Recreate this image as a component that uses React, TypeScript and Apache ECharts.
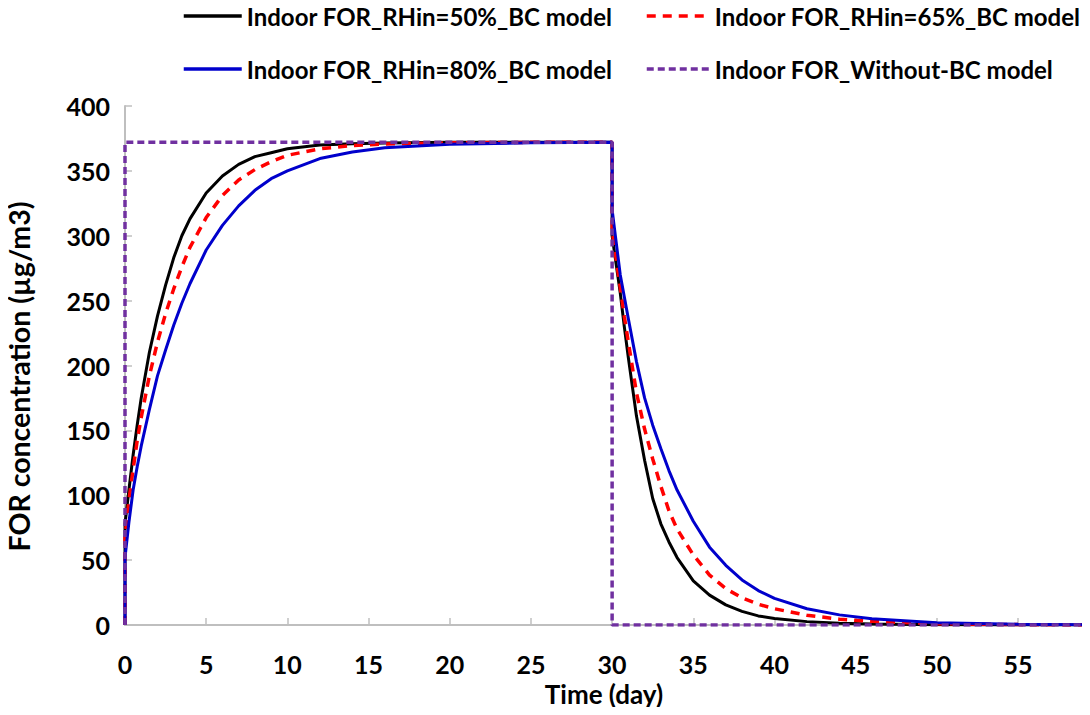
import React, { useEffect, useRef } from "react";
import * as echarts from "echarts";

// Time (day) sample points shared by the three BC-model series
const timeDays = [
  0, 0, 0.25, 0.5, 0.75, 1, 1.5, 2, 2.5, 3, 3.5, 4, 5, 6, 7, 8, 9, 10, 12, 14, 16, 20, 25, 30,
  30, 30.25, 30.5, 30.75, 31, 31.5, 32, 32.5, 33, 33.5, 34, 35, 36, 37, 38, 39, 40, 42, 44, 46, 50, 55, 59,
];

const rh50 = [
  0, 78, 105, 131, 154, 175, 210, 238, 262, 283, 300, 313, 333, 346, 355, 361, 364, 367, 370, 371, 371.5, 372, 372, 372,
  300, 278, 256, 230, 206, 161, 127, 97.5, 78, 64, 52, 34, 23, 15.5, 10.5, 7, 5, 2.6, 1.4, 0.8, 0.2, 0.05, 0,
];

const rh65 = [
  0, 68, 97, 120, 142, 160, 192, 218, 240, 259, 276, 291, 314, 331, 343, 351, 357, 362, 367, 369.5, 370.7, 371.6, 372, 372,
  304, 282, 260, 238, 218, 179, 151, 128, 107, 88, 74, 54, 38.5, 28, 21, 16, 12.5, 7.5, 4.5, 2.8, 1, 0.3, 0,
];

const rh80 = [
  0, 52, 80, 104, 122, 138, 166, 192, 212, 231, 248, 263, 289, 308, 323, 335, 344, 350, 359.5, 364.5, 367.8, 370.6, 371.6, 372,
  320, 295, 270, 253, 236, 203, 175, 154, 136, 119, 104, 80, 60, 46, 34.7, 26.5, 20.5, 12.5, 7.8, 4.8, 1.8, 0.6, 0.2,
];

const noBcTime = [0, 0, 30, 30, 59];
const noBcValues = [0, 372, 372, 0, 0];

const seriesNames = [
  "Indoor FOR_RHin=50%_BC model",
  "Indoor FOR_RHin=65%_BC model",
  "Indoor FOR_RHin=80%_BC model",
  "Indoor FOR_Without-BC model",
];

const FONT = "Lato, 'Noto Sans', sans-serif";

function pairs(xs: number[], ys: number[]) {
  return xs.map((x, i) => [x, ys[i]]);
}

export default function App() {
  const ref = useRef<HTMLDivElement>(null);
  useEffect(() => {
    if (!ref.current) return;
    const chart = echarts.init(ref.current, null, { renderer: "svg" });
    const axisGrey = "#BFBFBF";
    const textStyle = { fontFamily: FONT, fontWeight: "bold" as const, fontSize: 24, color: "#000" };
    const legendCommon = {
      orient: "vertical",
      top: 4,
      padding: 0,
      itemGap: 29,
      itemHeight: 14,
      selectedMode: false,
      itemStyle: { opacity: 0, borderWidth: 0 },
      lineStyle: { width: 3.5 },
      textStyle: { ...textStyle, fontSize: 24 },
    };
    chart.setOption({
      animation: false,
      backgroundColor: "#fff",
      grid: { left: 125, right: 7, top: 106, bottom: 90, containLabel: false, outerBoundsMode: "none" },
      legend: [
        { ...legendCommon, data: [seriesNames[0], seriesNames[2]], left: 182, itemWidth: 58 },
        { ...legendCommon, data: [seriesNames[1], seriesNames[3]], left: 645, itemWidth: 63 },
      ],
      xAxis: {
        type: "value",
        min: 0,
        max: 59,
        interval: 5,
        name: "Time (day)",
        nameLocation: "middle",
        nameGap: 55,
        nameTextStyle: { ...textStyle, fontSize: 26 },
        axisLine: { show: true, lineStyle: { color: axisGrey, width: 2 } },
        axisTick: { show: true, inside: true, length: 7, lineStyle: { color: axisGrey, width: 1.5 } },
        axisLabel: { ...textStyle, fontSize: 25, margin: 26, showMaxLabel: false, formatter: (v: number) => (v % 5 === 0 ? String(v) : "") },
        splitLine: { show: false },
      },
      yAxis: {
        type: "value",
        min: 0,
        max: 400,
        interval: 50,
        name: "FOR concentration (µg/m3)",
        nameLocation: "middle",
        nameGap: 92,
        nameRotate: 90,
        nameTextStyle: { ...textStyle, fontSize: 28.5, padding: [0, 22, 0, 0] },
        axisLine: { show: true, lineStyle: { color: axisGrey, width: 2 } },
        axisTick: { show: true, inside: true, length: 7, lineStyle: { color: axisGrey, width: 1.5 } },
        axisLabel: { ...textStyle, fontSize: 25, margin: 15 },
        splitLine: { show: false },
      },
      series: [
        {
          name: seriesNames[0],
          type: "line",
          data: pairs(timeDays, rh50),
          showSymbol: false,
          symbol: "none",
          color: "#000000",
          lineStyle: { color: "#000000", width: 3, type: "solid" },
        },
        {
          name: seriesNames[1],
          type: "line",
          data: pairs(timeDays, rh65),
          showSymbol: false,
          symbol: "none",
          color: "#FF0000",
          lineStyle: { color: "#FF0000", width: 3.5, type: [9, 7] },
        },
        {
          name: seriesNames[2],
          type: "line",
          data: pairs(timeDays, rh80),
          showSymbol: false,
          symbol: "none",
          color: "#0000CC",
          lineStyle: { color: "#0000CC", width: 3, type: "solid" },
        },
        {
          name: seriesNames[3],
          type: "line",
          data: pairs(noBcTime, noBcValues),
          showSymbol: false,
          symbol: "none",
          color: "#7030A0",
          lineStyle: { color: "#7030A0", width: 3.5, type: [7, 4] },
        },
      ],
    });
    return () => chart.dispose();
  }, []);
  return <div ref={ref} style={{ width: 1090, height: 715, margin: -8 }} />;
}
